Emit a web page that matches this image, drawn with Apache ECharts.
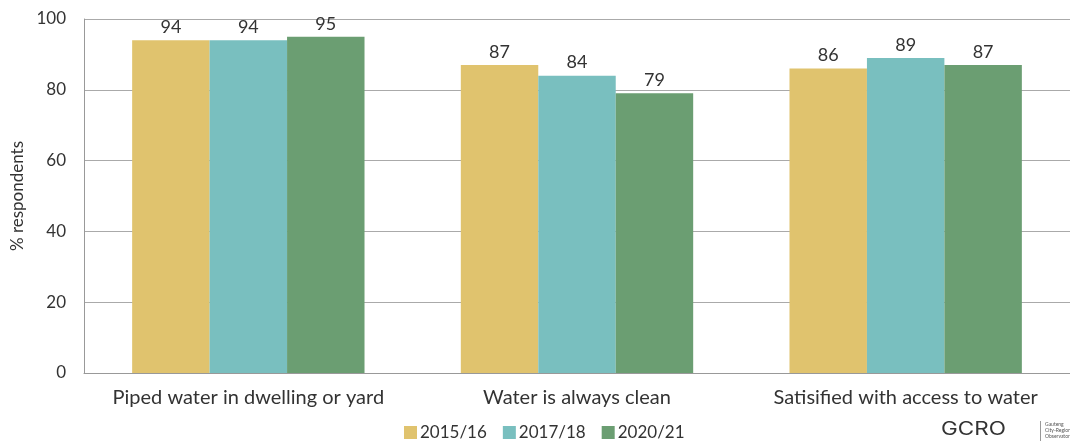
<!DOCTYPE html>
<html>
<head>
<meta charset="utf-8">
<script src="https://cdn.jsdelivr.net/npm/echarts@6/dist/echarts.min.js"></script>
<style>
  html, body { margin: 0; padding: 0; background: #fff; }
  #chart { width: 1070px; height: 448px; }
</style>
</head>
<body>
<div id="chart"></div>
<script>
// Survey categories and the share of respondents per survey round
const categories = ['Piped water in dwelling or yard', 'Water is always clean', 'Satisified with access to water'];
const rounds = ['2015/16', '2017/18', '2020/21'];
const values2015 = [94, 87, 86];
const values2017 = [94, 84, 89];
const values2020 = [95, 79, 87];
const colors = ['#E0C36E', '#79BFBF', '#6B9E72'];

const font = 'Lato, "Open Sans", sans-serif';
const textColor = '#333';

const chart = echarts.init(document.getElementById('chart'));

function barSeries(name, data, color) {
  return {
    name: name,
    type: 'bar',
    data: data,
    barGap: '0%',
    barCategoryGap: '29.3%',
    itemStyle: { color: color },
    label: {
      show: true,
      position: 'top',
      distance: 4,
      color: textColor,
      fontFamily: font,
      fontSize: 18
    }
  };
}

chart.setOption({
  animation: false,
  textStyle: { fontFamily: font },
  grid: { left: 84, right: -7, top: 19, bottom: 75, containLabel: false },
  legend: {
    data: rounds,
    bottom: 2,
    left: 399,
    itemWidth: 13,
    itemHeight: 13,
    itemGap: 16,
    icon: 'rect',
    textStyle: { color: textColor, fontSize: 17, fontFamily: font, padding: [0, 0, 0, -2] }
  },
  xAxis: {
    type: 'category',
    data: categories,
    axisTick: { show: false },
    axisLine: { lineStyle: { color: '#999', width: 1 } },
    axisLabel: { color: textColor, fontSize: 20, fontFamily: font, margin: 15, interval: 0, hideOverlap: false }
  },
  yAxis: {
    type: 'value',
    min: 0,
    max: 100,
    interval: 20,
    name: '% respondents',
    nameLocation: 'middle',
    nameGap: 56,
    nameRotate: 90,
    nameTextStyle: { color: textColor, fontSize: 17, fontFamily: font },
    axisLine: { show: true, lineStyle: { color: '#999', width: 1 } },
    axisTick: { show: false },
    axisLabel: { color: textColor, fontSize: 17, fontFamily: font, margin: 18 },
    splitLine: { lineStyle: { color: '#aaa', width: 1 } }
  },
  series: [
    barSeries(rounds[0], values2015, colors[0]),
    barSeries(rounds[1], values2017, colors[1]),
    barSeries(rounds[2], values2020, colors[2])
  ],
  graphic: [
    {
      type: 'text',
      left: 941,
      top: 421,
      scaleX: 1.25,
      style: { text: 'GCRO', fontFamily: 'Inter, sans-serif', fontSize: 18, fontWeight: 400, fill: '#333', letterSpacing: 2 }
    },
    {
      type: 'rect',
      left: 1040,
      top: 421,
      shape: { width: 1, height: 20 },
      style: { fill: '#999' }
    },
    {
      type: 'text',
      left: 1045,
      top: 421,
      style: { text: 'Gauteng\nCity-Region\nObservatory', fontFamily: font, fontSize: 5, lineHeight: 6, fill: '#555' }
    }
  ]
});
</script>
</body>
</html>
